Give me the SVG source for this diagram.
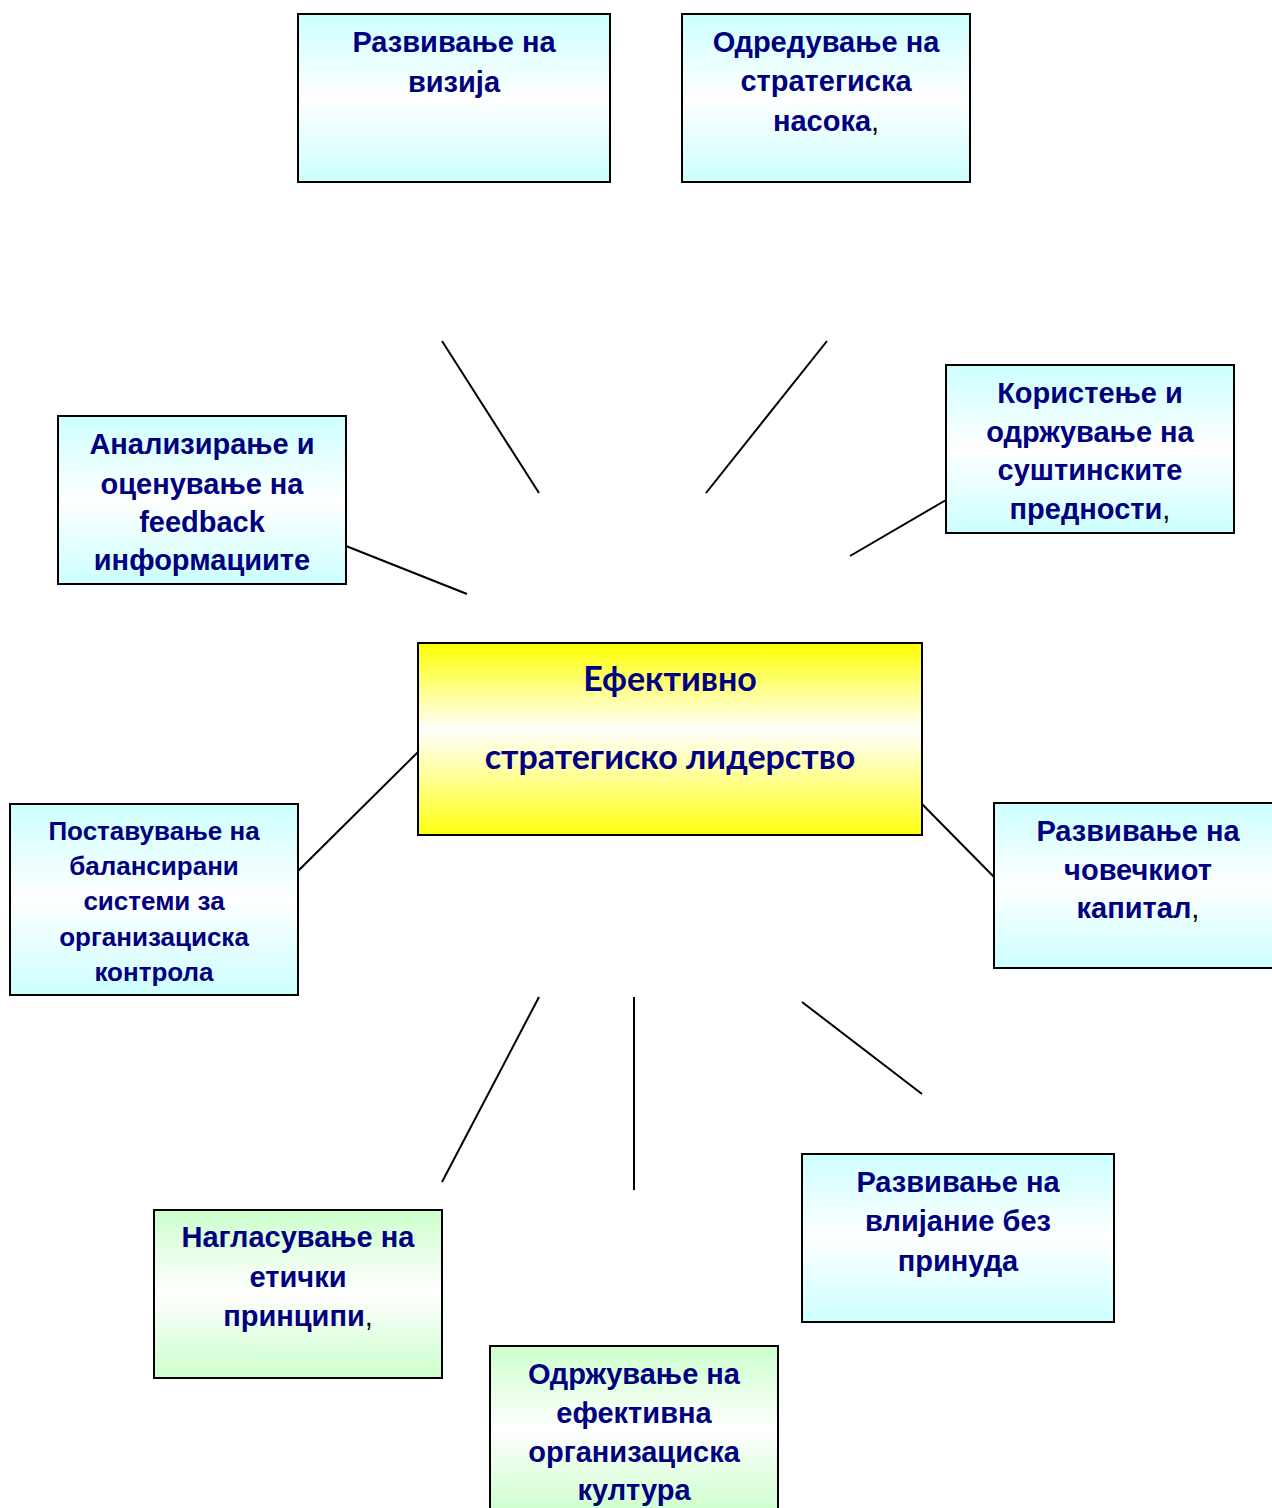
<svg xmlns="http://www.w3.org/2000/svg" width="1272" height="1508" viewBox="0 0 1272 1508">
<style>
.box{stroke:#000;stroke-width:2}
.blue{fill:url(#gBlue)}
.green{fill:url(#gGreen)}
.yellow{fill:url(#gYellow)}
.t{font-family:"Liberation Sans",Arial,sans-serif;font-weight:bold;font-size:29px;fill:#000080;text-anchor:middle}
.s{font-size:26px}
.c{font-family:Lato,"Open Sans",sans-serif;font-weight:bold;font-size:34px;fill:#000080;text-anchor:middle}
.cm{fill:#000;font-weight:normal}
.conn line{stroke:#000;stroke-width:2}
</style>
<defs>
<linearGradient id="gBlue" x1="0" y1="0" x2="0" y2="1">
<stop offset="0" stop-color="#CCFFFF"/><stop offset="0.5" stop-color="#FFFFFF"/><stop offset="1" stop-color="#CCFFFF"/>
</linearGradient>
<linearGradient id="gGreen" x1="0" y1="0" x2="0" y2="1">
<stop offset="0" stop-color="#CCFFCC"/><stop offset="0.5" stop-color="#FFFFFF"/><stop offset="1" stop-color="#CCFFCC"/>
</linearGradient>
<linearGradient id="gYellow" x1="0" y1="0" x2="0" y2="1">
<stop offset="0" stop-color="#FFFF00"/><stop offset="0.45" stop-color="#FFFFFF"/><stop offset="1" stop-color="#FFFF11"/>
</linearGradient>
</defs>
<rect width="1272" height="1508" fill="#fff"/>
<g class="conn" id="connectors">
<line x1="442" y1="341" x2="539" y2="493"/>
<line x1="827" y1="341" x2="706" y2="493"/>
<line x1="946" y1="500" x2="850" y2="556"/>
<line x1="346" y1="546" x2="467" y2="594"/>
<line x1="418" y1="752" x2="298" y2="871"/>
<line x1="922" y1="804" x2="994" y2="877"/>
<line x1="539" y1="997" x2="442" y2="1182"/>
<line x1="634" y1="997" x2="634" y2="1190"/>
<line x1="802" y1="1002" x2="922" y2="1094"/>
</g>
<g id="n-vizija">
<rect class="box blue" x="298" y="14" width="312" height="168"/>
<text class="t" x="454" y="52">Развивање на</text>
<text class="t" x="454" y="92">визија</text>
</g>
<g id="n-nasoka">
<rect class="box blue" x="682" y="14" width="288" height="168"/>
<text class="t" x="826" y="52">Одредување на</text>
<text class="t" x="826" y="91">стратегиска</text>
<text class="t" x="826" y="131">насока<tspan class="cm">,</tspan></text>
</g>
<g id="n-prednosti">
<rect class="box blue" x="946" y="365" width="288" height="168"/>
<text class="t" x="1090" y="403">Користење и</text>
<text class="t" x="1090" y="442">одржување на</text>
<text class="t" x="1090" y="480">суштинските</text>
<text class="t" x="1090" y="519">предности<tspan class="cm">,</tspan></text>
</g>
<g id="n-feedback">
<rect class="box blue" x="58" y="416" width="288" height="168"/>
<text class="t" x="202" y="454">Анализирање и</text>
<text class="t" x="202" y="494">оценување на</text>
<text class="t" x="202" y="532">feedback</text>
<text class="t" x="202" y="570">информациите</text>
</g>
<g id="n-center">
<rect class="box yellow" x="418" y="643" width="504" height="192"/>
<text class="c" x="670" y="691">Ефективно</text>
<text class="c" x="670" y="769">стратегиско лидерство</text>
</g>
<g id="n-kontrola">
<rect class="box blue" x="10" y="804" width="288" height="191"/>
<text class="t s" x="154" y="840">Поставување на</text>
<text class="t s" x="154" y="875">балансирани</text>
<text class="t s" x="154" y="910">системи за</text>
<text class="t s" x="154" y="946">организациска</text>
<text class="t s" x="154" y="981">контрола</text>
</g>
<g id="n-kapital">
<rect class="box blue" x="994" y="803" width="288" height="165"/>
<text class="t" x="1138" y="841">Развивање на</text>
<text class="t" x="1138" y="880">човечкиот</text>
<text class="t" x="1138" y="918">капитал<tspan class="cm">,</tspan></text>
</g>
<g id="n-vlijanie">
<rect class="box blue" x="802" y="1154" width="312" height="168"/>
<text class="t" x="958" y="1192">Развивање на</text>
<text class="t" x="958" y="1231">влијание без</text>
<text class="t" x="958" y="1271">принуда</text>
</g>
<g id="n-etika">
<rect class="box green" x="154" y="1210" width="288" height="168"/>
<text class="t" x="298" y="1247">Нагласување на</text>
<text class="t" x="298" y="1287">етички</text>
<text class="t" x="298" y="1326">принципи<tspan class="cm">,</tspan></text>
</g>
<g id="n-kultura">
<rect class="box green" x="490" y="1346" width="288" height="168"/>
<text class="t" x="634" y="1384">Одржување на</text>
<text class="t" x="634" y="1423">ефективна</text>
<text class="t" x="634" y="1462">организациска</text>
<text class="t" x="634" y="1500">култура</text>
</g>
</svg>
